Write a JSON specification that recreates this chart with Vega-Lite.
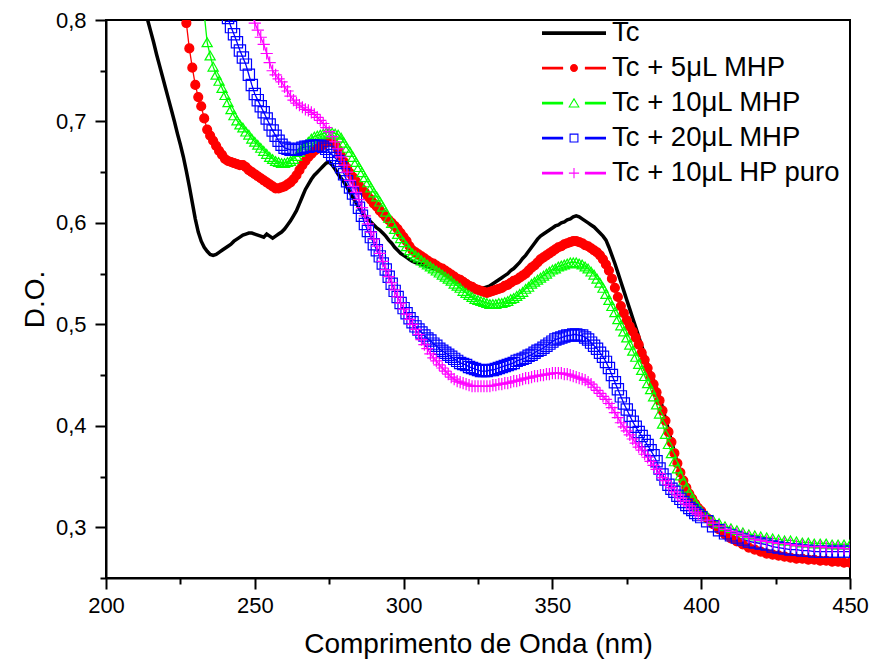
{
"$schema": "https://vega.github.io/schema/vega-lite/v6.json",
"width": 744, "height": 558,
"autosize": {"type": "none"},
"padding": {"left": 106, "top": 20, "right": 24, "bottom": 88},
"background": "white",
"config": {
  "font": "Liberation Sans",
  "view": {"stroke": "black", "strokeWidth": 2},
  "axis": {"domainColor": "black", "domainWidth": 2, "tickColor": "black", "tickWidth": 2, "labelColor": "black", "titleColor": "black", "labelFont": "Liberation Sans", "titleFont": "Liberation Sans", "titleFontWeight": "normal", "grid": false},
  "legend": {"labelFont": "Liberation Sans", "labelColor": "black"}
},
"data": {"values": [
{"w":212,"a":0.825},{"w":213,"a":0.812},{"w":214,"a":0.800},{"w":215,"a":0.789},{"w":216,"a":0.778},{"w":217,"a":0.766},{"w":218,"a":0.755},{"w":219,"a":0.744},{"w":220,"a":0.733},{"w":221,"a":0.722},{"w":222,"a":0.711},{"w":223,"a":0.700},{"w":224,"a":0.688},{"w":225,"a":0.677},
{"w":226,"a":0.665,"b":0.820},{"w":227,"a":0.651,"b":0.797},{"w":228,"a":0.636,"b":0.772},{"w":229,"a":0.620,"b":0.753},{"w":230,"a":0.604,"b":0.736},{"w":231,"a":0.591,"b":0.724},{"w":232,"a":0.582,"b":0.715},
{"w":233,"a":0.576,"b":0.703,"c":0.806},{"w":234,"a":0.572,"b":0.692,"c":0.778},{"w":235,"a":0.569,"b":0.686,"c":0.765},{"w":236,"a":0.568,"b":0.681,"c":0.754},{"w":237,"a":0.569,"b":0.676,"c":0.746},{"w":238,"a":0.571,"b":0.671,"c":0.740},{"w":239,"a":0.573,"b":0.667,"c":0.733},{"w":240,"a":0.575,"b":0.663,"c":0.726},
{"w":241,"a":0.577,"b":0.661,"c":0.719,"d":0.802},{"w":242,"a":0.579,"b":0.660,"c":0.712,"d":0.793},{"w":243,"a":0.582,"b":0.659,"c":0.706,"d":0.786},{"w":244,"a":0.584,"b":0.658,"c":0.701,"d":0.778},{"w":245,"a":0.586,"b":0.657,"c":0.697,"d":0.770},{"w":246,"a":0.588,"b":0.657,"c":0.694,"d":0.763},{"w":247,"a":0.589,"b":0.655,"c":0.690,"d":0.756},{"w":248,"a":0.590,"b":0.652,"c":0.687,"d":0.746},
{"w":249,"a":0.590,"b":0.650,"c":0.683,"d":0.736,"e":0.806},
{"w":250,"a":0.589,"b":0.648,"c":0.680,"d":0.727,"e":0.797},
{"w":251,"a":0.588,"b":0.646,"c":0.677,"d":0.721,"e":0.790},
{"w":252,"a":0.587,"b":0.644,"c":0.674,"d":0.715,"e":0.783},
{"w":253,"a":0.586,"b":0.642,"c":0.671,"d":0.709,"e":0.776},
{"w":254,"a":0.589,"b":0.640,"c":0.668,"d":0.703,"e":0.767},
{"w":255,"a":0.587,"b":0.638,"c":0.665,"d":0.697,"e":0.758},
{"w":256,"a":0.585,"b":0.636,"c":0.663,"d":0.691,"e":0.750},
{"w":257,"a":0.587,"b":0.634,"c":0.661,"d":0.686,"e":0.746},
{"w":258,"a":0.589,"b":0.634,"c":0.660,"d":0.681,"e":0.742},
{"w":259,"a":0.591,"b":0.635,"c":0.659,"d":0.677,"e":0.739},
{"w":260,"a":0.594,"b":0.636,"c":0.659,"d":0.674,"e":0.734},
{"w":261,"a":0.598,"b":0.638,"c":0.660,"d":0.673,"e":0.730},
{"w":262,"a":0.602,"b":0.640,"c":0.661,"d":0.672,"e":0.725},
{"w":263,"a":0.607,"b":0.643,"c":0.663,"d":0.672,"e":0.721},
{"w":264,"a":0.612,"b":0.647,"c":0.666,"d":0.672,"e":0.718},
{"w":265,"a":0.619,"b":0.652,"c":0.670,"d":0.673,"e":0.716},
{"w":266,"a":0.626,"b":0.657,"c":0.674,"d":0.674,"e":0.714},
{"w":267,"a":0.633,"b":0.661,"c":0.677,"d":0.675,"e":0.712},
{"w":268,"a":0.638,"b":0.665,"c":0.680,"d":0.675,"e":0.711},
{"w":269,"a":0.643,"b":0.668,"c":0.683,"d":0.676,"e":0.709},
{"w":270,"a":0.647,"b":0.671,"c":0.685,"d":0.676,"e":0.707},
{"w":271,"a":0.650,"b":0.673,"c":0.686,"d":0.676,"e":0.704},
{"w":272,"a":0.653,"b":0.675,"c":0.687,"d":0.676,"e":0.701},
{"w":273,"a":0.656,"b":0.677,"c":0.688,"d":0.675,"e":0.698},
{"w":274,"a":0.659,"b":0.679,"c":0.689,"d":0.673,"e":0.694},
{"w":275,"a":0.660,"b":0.681,"c":0.689,"d":0.670,"e":0.690},
{"w":276,"a":0.657,"b":0.680,"c":0.689,"d":0.667,"e":0.685},
{"w":277,"a":0.653,"b":0.677,"c":0.688,"d":0.664,"e":0.680},
{"w":278,"a":0.648,"b":0.672,"c":0.687,"d":0.661,"e":0.673},
{"w":279,"a":0.644,"b":0.666,"c":0.684,"d":0.655,"e":0.665},
{"w":280,"a":0.640,"b":0.660,"c":0.679,"d":0.648,"e":0.657},
{"w":281,"a":0.635,"b":0.654,"c":0.674,"d":0.641,"e":0.650},
{"w":282,"a":0.630,"b":0.649,"c":0.670,"d":0.635,"e":0.642},
{"w":283,"a":0.625,"b":0.645,"c":0.665,"d":0.629,"e":0.636},
{"w":284,"a":0.620,"b":0.641,"c":0.660,"d":0.623,"e":0.630},
{"w":285,"a":0.615,"b":0.637,"c":0.655,"d":0.615,"e":0.623},
{"w":286,"a":0.611,"b":0.633,"c":0.650,"d":0.607,"e":0.615},
{"w":287,"a":0.607,"b":0.630,"c":0.645,"d":0.599,"e":0.607},
{"w":288,"a":0.604,"b":0.626,"c":0.640,"d":0.592,"e":0.599},
{"w":289,"a":0.601,"b":0.623,"c":0.635,"d":0.586,"e":0.591},
{"w":290,"a":0.598,"b":0.619,"c":0.630,"d":0.579,"e":0.584},
{"w":291,"a":0.595,"b":0.616,"c":0.626,"d":0.573,"e":0.577},
{"w":292,"a":0.593,"b":0.612,"c":0.621,"d":0.567,"e":0.570},
{"w":293,"a":0.590,"b":0.609,"c":0.616,"d":0.560,"e":0.562},
{"w":294,"a":0.587,"b":0.606,"c":0.611,"d":0.554,"e":0.554},
{"w":295,"a":0.583,"b":0.603,"c":0.605,"d":0.547,"e":0.547},
{"w":296,"a":0.580,"b":0.600,"c":0.600,"d":0.540,"e":0.541},
{"w":297,"a":0.576,"b":0.597,"c":0.594,"d":0.533,"e":0.534},
{"w":298,"a":0.573,"b":0.594,"c":0.589,"d":0.527,"e":0.527},
{"w":299,"a":0.570,"b":0.590,"c":0.585,"d":0.521,"e":0.521},
{"w":300,"a":0.568,"b":0.586,"c":0.581,"d":0.516,"e":0.515},
{"w":301,"a":0.566,"b":0.582,"c":0.577,"d":0.511,"e":0.510},
{"w":302,"a":0.564,"b":0.577,"c":0.573,"d":0.506,"e":0.505},
{"w":303,"a":0.562,"b":0.573,"c":0.570,"d":0.502,"e":0.500},
{"w":304,"a":0.561,"b":0.571,"c":0.568,"d":0.498,"e":0.495},
{"w":305,"a":0.560,"b":0.569,"c":0.566,"d":0.495,"e":0.490},
{"w":306,"a":0.559,"b":0.567,"c":0.563,"d":0.492,"e":0.485},
{"w":307,"a":0.558,"b":0.565,"c":0.561,"d":0.489,"e":0.480},
{"w":308,"a":0.557,"b":0.563,"c":0.559,"d":0.486,"e":0.476},
{"w":309,"a":0.556,"b":0.561,"c":0.557,"d":0.484,"e":0.471},
{"w":310,"a":0.555,"b":0.560,"c":0.555,"d":0.481,"e":0.467},
{"w":311,"a":0.554,"b":0.558,"c":0.553,"d":0.479,"e":0.464},
{"w":312,"a":0.553,"b":0.556,"c":0.551,"d":0.476,"e":0.460},
{"w":313,"a":0.552,"b":0.555,"c":0.549,"d":0.474,"e":0.457},
{"w":314,"a":0.550,"b":0.553,"c":0.547,"d":0.472,"e":0.454},
{"w":315,"a":0.549,"b":0.551,"c":0.545,"d":0.470,"e":0.451},
{"w":316,"a":0.547,"b":0.549,"c":0.543,"d":0.468,"e":0.448},
{"w":317,"a":0.546,"b":0.547,"c":0.540,"d":0.466,"e":0.446},
{"w":318,"a":0.544,"b":0.545,"c":0.538,"d":0.464,"e":0.444},
{"w":319,"a":0.543,"b":0.544,"c":0.536,"d":0.462,"e":0.443},
{"w":320,"a":0.542,"b":0.542,"c":0.533,"d":0.461,"e":0.442},
{"w":321,"a":0.541,"b":0.540,"c":0.531,"d":0.460,"e":0.441},
{"w":322,"a":0.539,"b":0.538,"c":0.529,"d":0.458,"e":0.440},
{"w":323,"a":0.538,"b":0.537,"c":0.527,"d":0.457,"e":0.439},
{"w":324,"a":0.537,"b":0.535,"c":0.525,"d":0.456,"e":0.439},
{"w":325,"a":0.536,"b":0.534,"c":0.524,"d":0.455,"e":0.439},
{"w":326,"a":0.536,"b":0.533,"c":0.523,"d":0.454,"e":0.439},
{"w":327,"a":0.536,"b":0.532,"c":0.522,"d":0.454,"e":0.439},
{"w":328,"a":0.537,"b":0.531,"c":0.521,"d":0.454,"e":0.439},
{"w":329,"a":0.538,"b":0.532,"c":0.520,"d":0.455,"e":0.439},
{"w":330,"a":0.540,"b":0.533,"c":0.520,"d":0.455,"e":0.440},
{"w":331,"a":0.542,"b":0.534,"c":0.520,"d":0.456,"e":0.440},
{"w":332,"a":0.544,"b":0.535,"c":0.521,"d":0.457,"e":0.441},
{"w":333,"a":0.546,"b":0.536,"c":0.521,"d":0.458,"e":0.441},
{"w":334,"a":0.548,"b":0.538,"c":0.522,"d":0.459,"e":0.442},
{"w":335,"a":0.550,"b":0.539,"c":0.523,"d":0.460,"e":0.442},
{"w":336,"a":0.553,"b":0.541,"c":0.525,"d":0.461,"e":0.443},
{"w":337,"a":0.555,"b":0.543,"c":0.526,"d":0.462,"e":0.444},
{"w":338,"a":0.558,"b":0.544,"c":0.528,"d":0.464,"e":0.444},
{"w":339,"a":0.561,"b":0.546,"c":0.530,"d":0.465,"e":0.445},
{"w":340,"a":0.565,"b":0.548,"c":0.532,"d":0.466,"e":0.446},
{"w":341,"a":0.568,"b":0.550,"c":0.535,"d":0.467,"e":0.447},
{"w":342,"a":0.572,"b":0.553,"c":0.537,"d":0.469,"e":0.447},
{"w":343,"a":0.576,"b":0.556,"c":0.540,"d":0.470,"e":0.448},
{"w":344,"a":0.580,"b":0.558,"c":0.542,"d":0.472,"e":0.449},
{"w":345,"a":0.584,"b":0.561,"c":0.544,"d":0.474,"e":0.449},
{"w":346,"a":0.587,"b":0.564,"c":0.546,"d":0.475,"e":0.450},
{"w":347,"a":0.589,"b":0.566,"c":0.548,"d":0.477,"e":0.450},
{"w":348,"a":0.591,"b":0.568,"c":0.550,"d":0.479,"e":0.451},
{"w":349,"a":0.593,"b":0.570,"c":0.552,"d":0.481,"e":0.451},
{"w":350,"a":0.595,"b":0.572,"c":0.554,"d":0.483,"e":0.452},
{"w":351,"a":0.597,"b":0.574,"c":0.555,"d":0.485,"e":0.452},
{"w":352,"a":0.598,"b":0.576,"c":0.557,"d":0.486,"e":0.452},
{"w":353,"a":0.600,"b":0.577,"c":0.558,"d":0.487,"e":0.452},
{"w":354,"a":0.601,"b":0.579,"c":0.559,"d":0.488,"e":0.451},
{"w":355,"a":0.603,"b":0.580,"c":0.560,"d":0.489,"e":0.451},
{"w":356,"a":0.604,"b":0.581,"c":0.561,"d":0.489,"e":0.450},
{"w":357,"a":0.606,"b":0.582,"c":0.561,"d":0.490,"e":0.449},
{"w":358,"a":0.607,"b":0.582,"c":0.561,"d":0.490,"e":0.448},
{"w":359,"a":0.606,"b":0.581,"c":0.560,"d":0.489,"e":0.447},
{"w":360,"a":0.604,"b":0.580,"c":0.559,"d":0.489,"e":0.446},
{"w":361,"a":0.602,"b":0.578,"c":0.557,"d":0.487,"e":0.445},
{"w":362,"a":0.600,"b":0.577,"c":0.555,"d":0.485,"e":0.443},
{"w":363,"a":0.598,"b":0.575,"c":0.552,"d":0.482,"e":0.441},
{"w":364,"a":0.596,"b":0.573,"c":0.549,"d":0.479,"e":0.438},
{"w":365,"a":0.593,"b":0.571,"c":0.545,"d":0.476,"e":0.435},
{"w":366,"a":0.590,"b":0.568,"c":0.541,"d":0.472,"e":0.432},
{"w":367,"a":0.587,"b":0.564,"c":0.536,"d":0.468,"e":0.429},
{"w":368,"a":0.583,"b":0.559,"c":0.530,"d":0.463,"e":0.426},
{"w":369,"a":0.576,"b":0.553,"c":0.524,"d":0.457,"e":0.422},
{"w":370,"a":0.568,"b":0.545,"c":0.518,"d":0.450,"e":0.418},
{"w":371,"a":0.560,"b":0.536,"c":0.512,"d":0.443,"e":0.413},
{"w":372,"a":0.551,"b":0.527,"c":0.505,"d":0.436,"e":0.408},
{"w":373,"a":0.542,"b":0.518,"c":0.499,"d":0.429,"e":0.403},
{"w":374,"a":0.533,"b":0.511,"c":0.493,"d":0.422,"e":0.399},
{"w":375,"a":0.524,"b":0.504,"c":0.487,"d":0.416,"e":0.395},
{"w":376,"a":0.515,"b":0.498,"c":0.480,"d":0.410,"e":0.391},
{"w":377,"a":0.506,"b":0.493,"c":0.474,"d":0.404,"e":0.387},
{"w":378,"a":0.497,"b":0.487,"c":0.468,"d":0.399,"e":0.383},
{"w":379,"a":0.488,"b":0.480,"c":0.461,"d":0.394,"e":0.379},
{"w":380,"a":0.479,"b":0.472,"c":0.455,"d":0.390,"e":0.376},
{"w":381,"a":0.470,"b":0.465,"c":0.449,"d":0.385,"e":0.372},
{"w":382,"a":0.461,"b":0.457,"c":0.442,"d":0.381,"e":0.369},
{"w":383,"a":0.452,"b":0.449,"c":0.436,"d":0.376,"e":0.365},
{"w":384,"a":0.444,"b":0.441,"c":0.429,"d":0.371,"e":0.361},
{"w":385,"a":0.436,"b":0.433,"c":0.421,"d":0.365,"e":0.357},
{"w":386,"a":0.428,"b":0.425,"c":0.412,"d":0.358,"e":0.353},
{"w":387,"a":0.418,"b":0.415,"c":0.402,"d":0.352,"e":0.349},
{"w":388,"a":0.407,"b":0.405,"c":0.392,"d":0.347,"e":0.346},
{"w":389,"a":0.396,"b":0.394,"c":0.382,"d":0.342,"e":0.342},
{"w":390,"a":0.385,"b":0.384,"c":0.373,"d":0.338,"e":0.339},
{"w":391,"a":0.374,"b":0.373,"c":0.365,"d":0.335,"e":0.335},
{"w":392,"a":0.363,"b":0.363,"c":0.358,"d":0.331,"e":0.332},
{"w":393,"a":0.354,"b":0.354,"c":0.351,"d":0.328,"e":0.329},
{"w":394,"a":0.346,"b":0.346,"c":0.345,"d":0.325,"e":0.326},
{"w":395,"a":0.340,"b":0.339,"c":0.339,"d":0.322,"e":0.323},
{"w":396,"a":0.334,"b":0.333,"c":0.334,"d":0.319,"e":0.321},
{"w":397,"a":0.329,"b":0.328,"c":0.329,"d":0.317,"e":0.318},
{"w":398,"a":0.324,"b":0.323,"c":0.324,"d":0.314,"e":0.315},
{"w":399,"a":0.320,"b":0.319,"c":0.320,"d":0.312,"e":0.313},
{"w":400,"a":0.317,"b":0.316,"c":0.316,"d":0.310,"e":0.311},
{"w":402,"a":0.310,"b":0.309,"c":0.311,"d":0.306,"e":0.307},
{"w":404,"a":0.304,"b":0.303,"c":0.307,"d":0.301,"e":0.304},
{"w":406,"a":0.299,"b":0.298,"c":0.304,"d":0.297,"e":0.301},
{"w":408,"a":0.294,"b":0.293,"c":0.301,"d":0.294,"e":0.298},
{"w":410,"a":0.290,"b":0.289,"c":0.299,"d":0.292,"e":0.296},
{"w":412,"a":0.287,"b":0.286,"c":0.297,"d":0.290,"e":0.294},
{"w":414,"a":0.284,"b":0.283,"c":0.295,"d":0.288,"e":0.292},
{"w":416,"a":0.281,"b":0.280,"c":0.293,"d":0.286,"e":0.290},
{"w":418,"a":0.278,"b":0.278,"c":0.292,"d":0.285,"e":0.288},
{"w":420,"a":0.276,"b":0.276,"c":0.291,"d":0.284,"e":0.287},
{"w":422,"a":0.275,"b":0.274,"c":0.290,"d":0.283,"e":0.286},
{"w":424,"a":0.274,"b":0.273,"c":0.289,"d":0.281,"e":0.285},
{"w":426,"a":0.273,"b":0.272,"c":0.288,"d":0.280,"e":0.284},
{"w":428,"a":0.271,"b":0.271,"c":0.287,"d":0.279,"e":0.284},
{"w":430,"a":0.270,"b":0.270,"c":0.287,"d":0.278,"e":0.283},
{"w":432,"a":0.270,"b":0.269,"c":0.286,"d":0.278,"e":0.282},
{"w":434,"a":0.269,"b":0.269,"c":0.285,"d":0.277,"e":0.282},
{"w":436,"a":0.269,"b":0.268,"c":0.285,"d":0.277,"e":0.281},
{"w":438,"a":0.268,"b":0.268,"c":0.284,"d":0.276,"e":0.281},
{"w":440,"a":0.268,"b":0.267,"c":0.284,"d":0.276,"e":0.281},
{"w":442,"a":0.268,"b":0.267,"c":0.284,"d":0.276,"e":0.280},
{"w":444,"a":0.267,"b":0.266,"c":0.283,"d":0.276,"e":0.280},
{"w":446,"a":0.267,"b":0.266,"c":0.283,"d":0.276,"e":0.280},
{"w":448,"a":0.267,"b":0.265,"c":0.283,"d":0.276,"e":0.279},
{"w":450,"a":0.266,"b":0.265,"c":0.283,"d":0.276,"e":0.279}
]},
"transform": [
  {"fold": ["a", "b", "c", "d", "e"], "as": ["s", "v"]},
  {"filter": "isValid(datum.v)"}
],
"resolve": {"axis": {"x": "independent", "y": "independent"}},
"layer": [
  {
    "mark": {"type": "line", "clip": true},
    "encoding": {
      "x": {"field": "w", "type": "quantitative", "scale": {"domain": [200, 450], "nice": false, "zero": false},
        "axis": {"values": [200, 250, 300, 350, 400, 450], "tickSize": 11, "labelFontSize": 22, "labelPadding": 6, "labelFlush": false, "labelOverlap": false, "title": "Comprimento de Onda (nm)", "titleFontSize": 28, "titlePadding": 14}},
      "y": {"field": "v", "type": "quantitative", "scale": {"domain": [0.25, 0.8], "nice": false, "zero": false},
        "axis": {"values": [0.3, 0.4, 0.5, 0.6, 0.7, 0.8], "tickSize": 11, "labelFontSize": 22, "labelPadding": 9, "labelFlush": false, "labelOverlap": false, "labelExpr": "replace(format(datum.value, '.1f'), '.', ',')", "title": "D.O.", "titleFontSize": 28, "titlePadding": 6}},
      "color": {"field": "s", "type": "nominal",
        "scale": {"domain": ["a", "b", "c", "d", "e"], "range": ["#000000", "#ff0000", "#00ff00", "#0000ff", "#ff00ff"]},
        "legend": {
          "title": null, "orient": "none", "legendX": 436, "legendY": -4, "padding": 0,
          "symbolSize": 4096, "clipHeight": 34.2, "rowPadding": 0, "labelOffset": 6,
          "labelFontSize": 27.5, "labelLimit": 500, "labelColor": "black", "labelFont": "Liberation Sans",
          "labelExpr": "datum.value === 'a' ? 'Tc' : datum.value === 'b' ? 'Tc + 5μL MHP' : datum.value === 'c' ? 'Tc + 10μL MHP' : datum.value === 'd' ? 'Tc + 20μL MHP' : 'Tc + 10μL HP puro'",
          "encode": {"symbols": {"update": {
            "shape": {"signal": "datum.value === 'a' ? 'M-1,-0.06H1V0.06H-1Z' : datum.value === 'b' ? 'M-1,-0.04H-0.34V0.04H-1ZM0.34,-0.04H1V0.04H0.34ZM-0.125,0A0.125,0.125,0,1,0,0.125,0A0.125,0.125,0,1,0,-0.125,0Z' : datum.value === 'c' ? 'M-1,-0.04H-0.34V0.04H-1ZM0.34,-0.04H1V0.04H0.34ZM0,-0.17L0.18,0.14L-0.18,0.14ZM0,-0.1L-0.125,0.11L0.125,0.11Z' : datum.value === 'd' ? 'M-1,-0.04H-0.34V0.04H-1ZM0.34,-0.04H1V0.04H0.34ZM-0.14,-0.14H0.14V0.14H-0.14ZM-0.105,-0.105V0.105H0.105V-0.105Z' : 'M-1,-0.04H-0.34V0.04H-1ZM0.34,-0.04H1V0.04H0.34ZM-0.16,-0.017H0.16V0.017H-0.16ZM-0.017,-0.16H0.017V0.16H-0.017Z'"},
            "fill": {"signal": "datum.value === 'a' ? '#000000' : datum.value === 'b' ? '#ff0000' : datum.value === 'c' ? '#00ff00' : datum.value === 'd' ? '#0000ff' : '#ff00ff'"},
            "stroke": {"value": "transparent"},
            "strokeWidth": {"value": 0},
            "size": {"value": 4096},
            "opacity": {"value": 1}
          }}}
        }},
      "strokeWidth": {"condition": {"test": "datum.s === 'a'", "value": 3.5}, "value": 1.3}
    }
  },
  {
    "transform": [{"filter": "datum.s !== 'a'"}],
    "mark": {"type": "point", "clip": true, "strokeWidth": 1.2, "opacity": 1},
    "encoding": {
      "x": {"field": "w", "type": "quantitative", "scale": {"domain": [200, 450], "nice": false, "zero": false},
        "axis": {"orient": "bottom", "values": [225, 275, 325, 375, 425], "tickSize": 6, "labels": false, "domain": false, "title": null}},
      "y": {"field": "v", "type": "quantitative", "scale": {"domain": [0.25, 0.8], "nice": false, "zero": false},
        "axis": {"orient": "left", "values": [0.25, 0.35, 0.45, 0.55, 0.65, 0.75], "tickSize": 6, "labels": false, "domain": false, "title": null}},
      "shape": {"field": "s", "type": "nominal", "scale": {"domain": ["b", "c", "d", "e"], "range": ["circle", "triangle-up", "square", "M-1,0H1M0,-1V1"]}, "legend": null},
      "stroke": {"field": "s", "type": "nominal", "scale": {"domain": ["b", "c", "d", "e"], "range": ["#ff0000", "#00ff00", "#0000ff", "#ff00ff"]}, "legend": null},
      "fill": {"field": "s", "type": "nominal", "scale": {"domain": ["b", "c", "d", "e"], "range": ["#ff0000", "transparent", "transparent", "transparent"]}, "legend": null},
      "size": {"field": "s", "type": "ordinal", "scale": {"domain": ["b", "c", "d", "e"], "range": [80, 150, 70, 130]}, "legend": null},
      "order": {"field": "s", "type": "nominal"}
    }
  }
]
}
